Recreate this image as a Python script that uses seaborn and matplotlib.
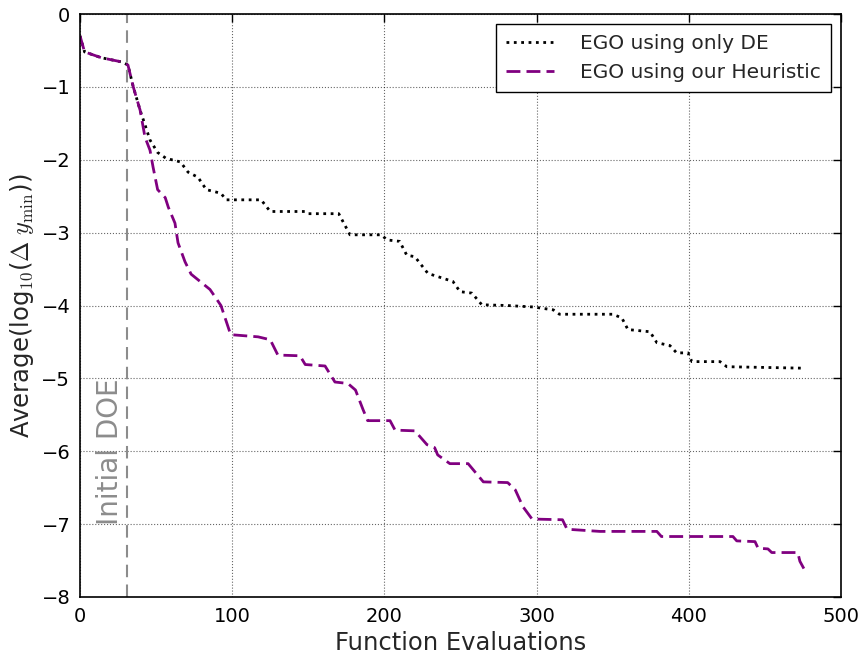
import matplotlib
matplotlib.use("Agg")
import matplotlib.pyplot as plt
import seaborn as sns
import pandas as pd

de_x = [0, 3, 14, 28, 31.5, 35, 39.5, 42.7, 46, 51, 56.5, 66, 71, 77.5, 83, 92.6, 96, 119, 125, 148,
        150, 170, 177.4, 198, 201.7, 210, 214.7, 220, 228.6, 245, 249.7, 257.5, 264, 280.5, 297.6,
        311, 315, 350, 356, 360, 374.5, 379, 387.6, 392, 399.5, 402, 420.5, 425, 475]
de_y = [-0.3, -0.52, -0.6, -0.66, -0.7, -1.0, -1.32, -1.52, -1.73, -1.9, -1.98, -2.03, -2.17, -2.24,
        -2.41, -2.46, -2.55, -2.55, -2.71, -2.71, -2.74, -2.74, -3.03, -3.03, -3.10, -3.12, -3.31,
        -3.33, -3.56, -3.67, -3.81, -3.83, -3.99, -4.0, -4.02, -4.06, -4.12, -4.12, -4.17, -4.33,
        -4.36, -4.51, -4.55, -4.65, -4.65, -4.77, -4.77, -4.84, -4.86]

heur_x = [0, 3, 14, 28, 31.5, 35, 39.5, 42.7, 46, 48, 51, 56, 58, 62.4, 64.4, 69, 73, 79.5, 85.4, 88.7,
          92.6, 95, 99, 117, 125, 130, 144.5, 148, 161, 167.5, 176, 181, 186, 189, 203.7, 207, 220,
          228, 233, 235, 243, 255, 265, 281, 286, 291, 297, 317, 320, 341.6, 379, 382, 429, 431.5,
          443.5, 445.5, 452, 454.5, 471.6, 473, 475.6]
heur_y = [-0.3, -0.52, -0.6, -0.66, -0.7, -1.0, -1.32, -1.69, -1.87, -2.1, -2.41, -2.52, -2.65, -2.87,
          -3.14, -3.4, -3.57, -3.68, -3.78, -3.88, -4.0, -4.15, -4.40, -4.43, -4.47, -4.68, -4.69,
          -4.81, -4.83, -5.05, -5.07, -5.16, -5.43, -5.58, -5.58, -5.71, -5.72, -5.91, -5.95, -6.05,
          -6.17, -6.17, -6.42, -6.43, -6.53, -6.76, -6.93, -6.94, -7.07, -7.1, -7.1, -7.17, -7.17,
          -7.23, -7.24, -7.33, -7.34, -7.39, -7.39, -7.51, -7.61]

doe_x = 31
labels = ["EGO using only DE", "EGO using our Heuristic"]
x_ticks = [0, 100, 200, 300, 400, 500]
y_ticks = [-8, -7, -6, -5, -4, -3, -2, -1, 0]

sns.set_style("white")
plt.rcParams['font.family'] = ['DejaVu Sans']
plt.rcParams['mathtext.fontset'] = 'cm'

fig = plt.figure(figsize=(8.61, 6.55), dpi=100)
ax = fig.add_axes([80/861, 1-597/655, (841-80)/861, (597-14)/655])

df_de = pd.DataFrame({"x": de_x, "y": de_y})
df_h = pd.DataFrame({"x": heur_x, "y": heur_y})
sns.lineplot(data=df_de, x="x", y="y", ax=ax, color="black", linestyle=":", linewidth=2,
             estimator=None, sort=False, label=labels[0])
sns.lineplot(data=df_h, x="x", y="y", ax=ax, color="purple", linestyle="--", linewidth=2,
             estimator=None, sort=False, label=labels[1])
ax.lines[1].set_dashes((5, 2.2))

ax.axvline(doe_x, color="#8c8c8c", linestyle="--", linewidth=1.5, dashes=(6, 3.5))
ax.text(20, -6.0, "Initial DOE", rotation=90, color="#8c8c8c", fontsize=20,
        ha="center", va="center")

ax.set_xlim(0, 500)
ax.set_ylim(-8, 0)
ax.set_xticks(x_ticks)
ax.set_yticks(y_ticks)
ax.set_yticklabels([str(v).replace("-", "\u2212") for v in y_ticks])
ax.grid(True, color="black", linestyle=":", linewidth=0.8, alpha=0.6)
for s in ax.spines.values():
    s.set_color("black")
    s.set_linewidth(1.2)
ax.tick_params(direction="in", length=6, width=1, top=True, right=True, labelsize=14,
               colors="black", pad=7)
ax.set_xlabel("Function Evaluations", fontsize=17.5)
ax.set_ylabel(r"Average(log$_{10}$($\Delta\ y_{\min}$))", fontsize=17.5)

leg = ax.legend(loc="upper right", fontsize=14.5, fancybox=False, framealpha=1,
                edgecolor="black", handlelength=2.4, handletextpad=1.3, borderpad=0.5,
                borderaxespad=0.5)
leg.get_frame().set_linewidth(1.0)

fig.savefig("out.png", dpi=100)
